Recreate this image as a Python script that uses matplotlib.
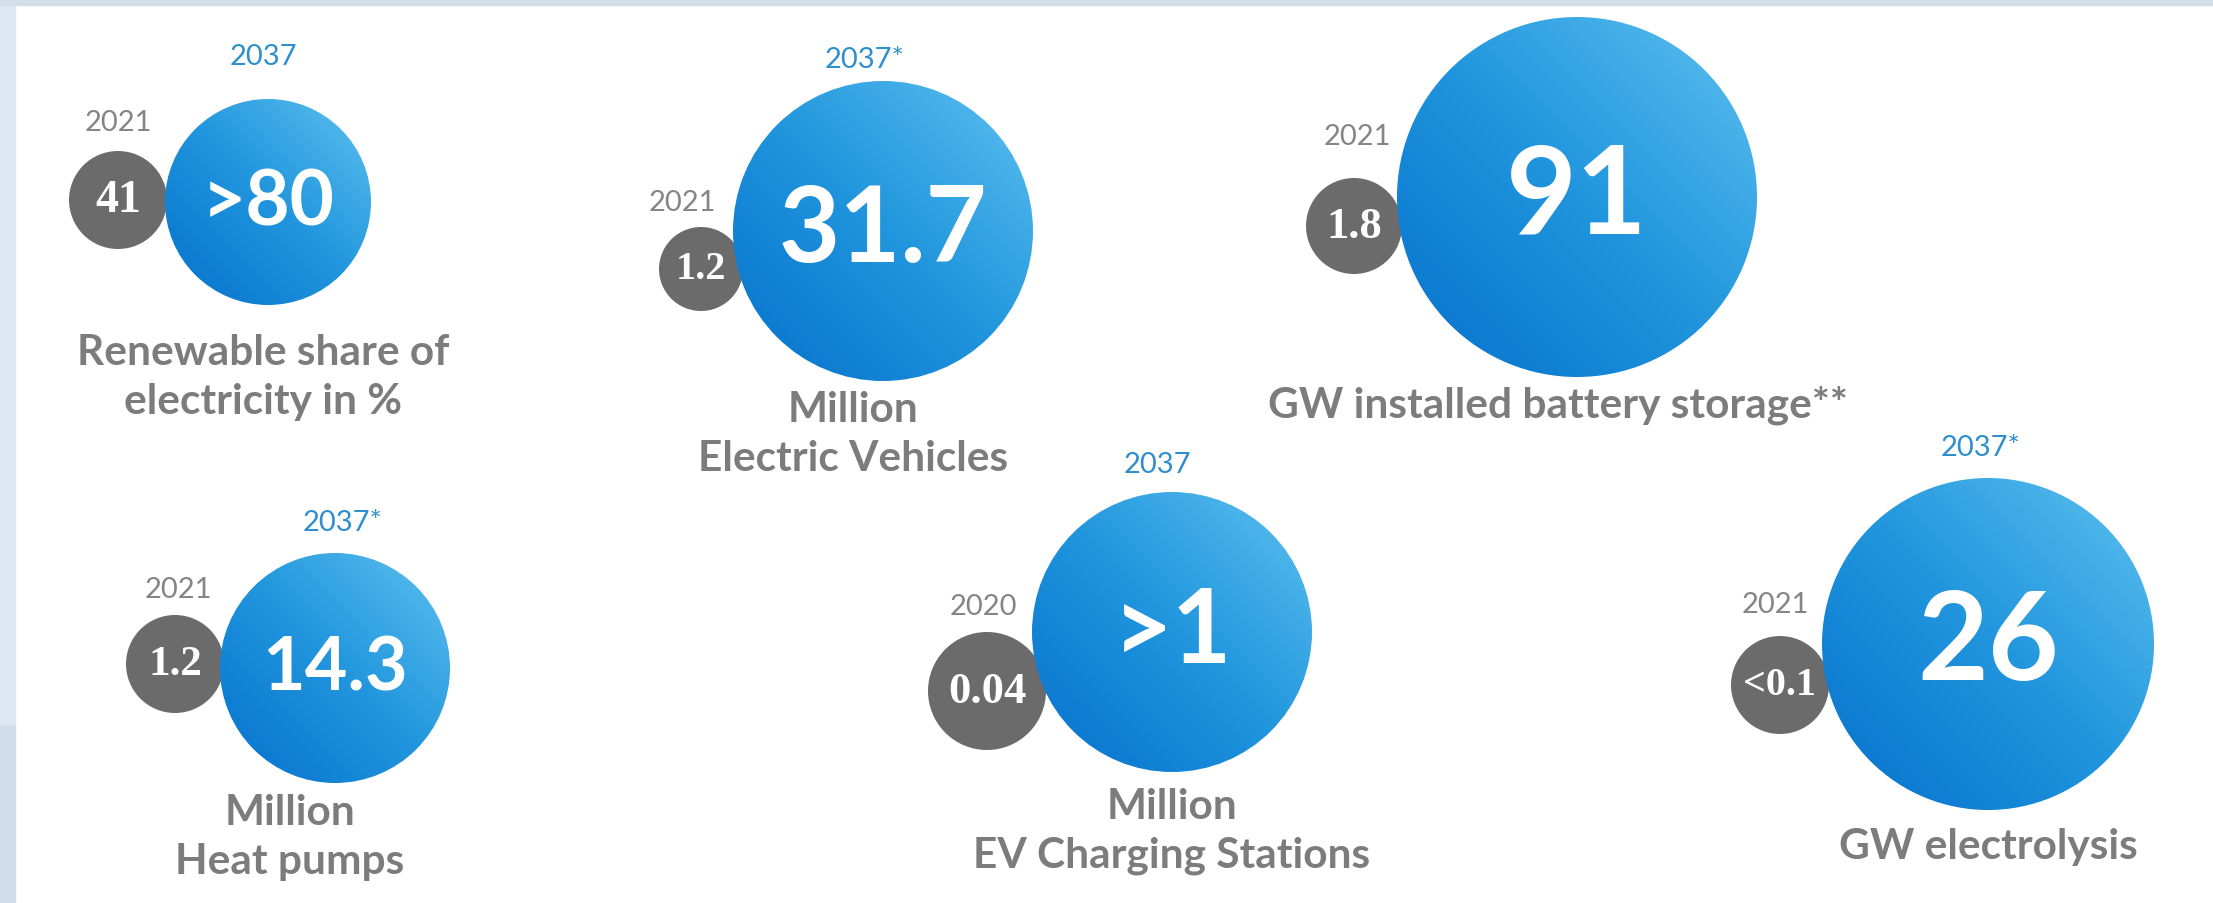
import matplotlib
matplotlib.use('Agg')
import matplotlib.pyplot as plt
import numpy as np
from matplotlib.patches import Circle, Rectangle
from matplotlib.colors import LinearSegmentedColormap

# data
titles = ['Renewable share of\nelectricity in %', 'Million\nElectric Vehicles',
          'GW installed battery storage**', 'Million\nHeat pumps',
          'Million\nEV Charging Stations', 'GW electrolysis']
base_years = ['2021', '2021', '2021', '2021', '2020', '2021']
base_values = ['41', '1.2', '1.8', '1.2', '0.04', '<0.1']
target_years = ['2037', '2037*', '', '2037*', '2037', '2037*']
target_values = ['>80', '31.7', '91', '14.3', '>1', '26']

# layout, in pixels from the top-left corner
big_xy = [(268, 203), (883, 232), (1577, 198), (335, 669), (1172, 633), (1988, 645)]
big_r = [103, 150, 180, 115, 140, 166]
small_xy = [(118, 201), (701, 270), (1354, 227), (175, 665), (987, 692), (1780, 686)]
small_r = [49, 42, 48, 49, 59, 49]
value_size = [55, 76, 88, 53, 74, 88]
small_size = [33, 29, 32, 31, 32, 29]
target_year_xy = [(263, 57), (865, 60), None, (342, 523), (1157, 465), (1980, 448)]
base_year_xy = [(118, 123), (682, 203), (1357, 137), (178, 590), (983, 607), (1775, 605)]
title_xy = [(263, 353), (853, 410), (1558, 405), (290, 813), (1172, 807), (1988, 847)]

W, H = 2213, 904
fig = plt.figure(figsize=(W / 100, H / 100), dpi=100)
ax = fig.add_axes([0, 0, 1, 1])
ax.axis('off')

# light frame of the slide
ax.add_patch(Rectangle((0, 0), 15, 727, color='#dde6f1', zorder=0))
ax.add_patch(Rectangle((0, 727), 15, H - 727, color='#d1ddec', zorder=0))
ax.add_patch(Rectangle((0, 0), W, 6, color='#d3deeb', zorder=0))

blues = LinearSegmentedColormap.from_list('blues', ['#0570cc', '#2095dd', '#5dc1ef'])
n = 300
gx = np.linspace(0, 1, n)
grad = (gx[None, :] + (1 - gx[:, None])) / 2

for i in range(len(titles)):
    cx, cy = big_xy[i]
    r = big_r[i]
    sx, sy = small_xy[i]

    ax.add_patch(Circle((sx, sy), small_r[i], color='#6b6b6b', zorder=1, lw=0))
    im = ax.imshow(grad, cmap=blues, extent=(cx - r, cx + r, cy + r, cy - r),
                   origin='upper', aspect='auto', interpolation='bilinear', zorder=2)
    clip = Circle((cx, cy), r, transform=ax.transData)
    im.set_clip_path(clip)

    ax.text(cx, cy, target_values[i], color='white', fontsize=value_size[i],
            fontfamily='Lato', fontweight='bold', ha='center', va='center', zorder=3)
    ax.text(sx, sy, base_values[i], color='white', fontsize=small_size[i],
            fontfamily='Liberation Serif', fontweight='bold', ha='center', va='center', zorder=3)

    if target_year_xy[i] is not None:
        ax.text(*target_year_xy[i], target_years[i], color='#2f8fcd', fontsize=21,
                fontfamily='Lato', ha='center', va='center')
    ax.text(*base_year_xy[i], base_years[i], color='#858585', fontsize=21,
            fontfamily='Lato', ha='center', va='center')

    tx, ty = title_xy[i]
    for k, line in enumerate(titles[i].split('\n')):
        ax.text(tx, ty + k * 49, line, color='#7c7c7c', fontsize=30.5,
                fontfamily='Lato', fontweight='bold', ha='center', va='center')

ax.set_xlim(0, W)
ax.set_ylim(H, 0)
fig.savefig('out.png', dpi=100, facecolor='white')
